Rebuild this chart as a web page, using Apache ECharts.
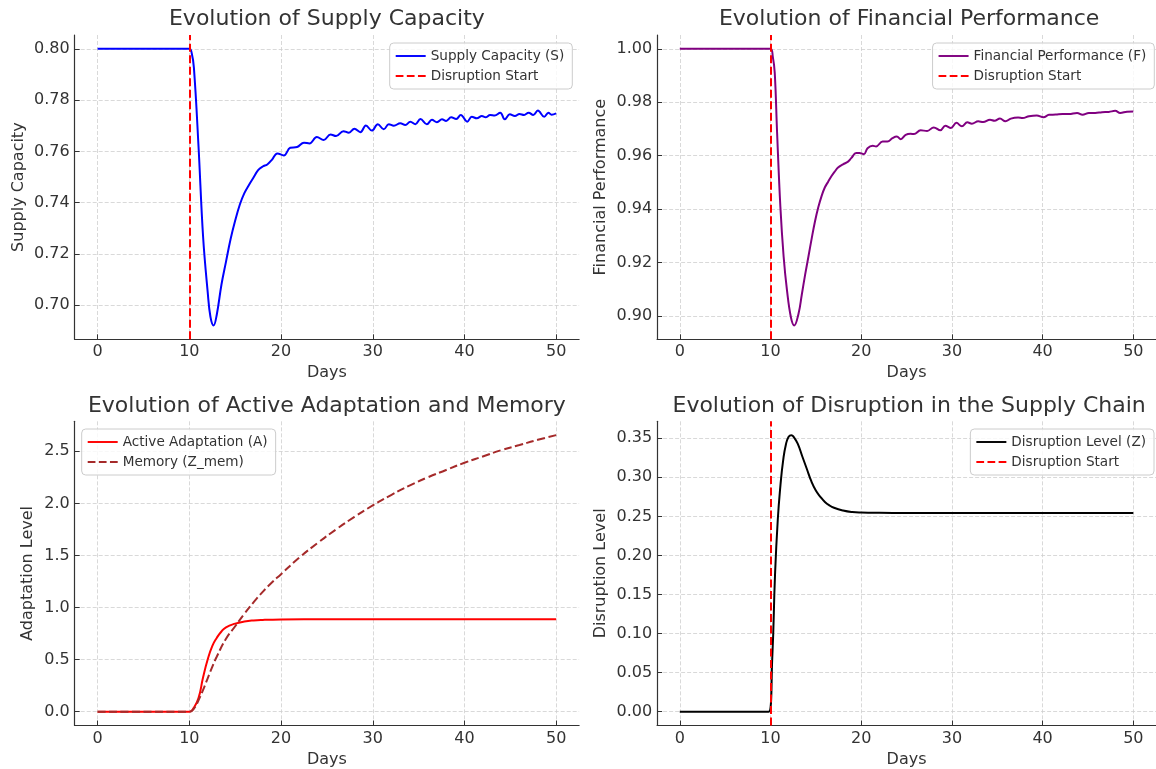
<!DOCTYPE html>
<html>
<head>
<meta charset="utf-8">
<script src="https://cdn.jsdelivr.net/npm/echarts@6/dist/echarts.min.js"></script>
<style>
  html, body { margin: 0; padding: 0; background: #fff; }
  #chart { width: 1156px; height: 769px; }
</style>
</head>
<body>
<div id="chart"></div>
<script>
// Supply capacity S over time (days)
const sDays = [0, 10, 10.25, 10.5, 11, 11.5, 12, 12.3, 12.65, 13, 13.5, 14, 14.5, 15, 15.5, 16, 16.5, 17, 17.5, 18,
  18.5, 19, 19.6, 20.3, 21.0, 21.75, 22.5, 23.1, 23.9, 24.65, 25.4, 26.0, 26.8, 27.4, 28.0, 28.65, 29.25, 29.9, 30.55, 31.2,
  31.75, 32.3, 33.0, 33.55, 34.1, 34.65, 35.2, 35.9, 36.45, 37.0, 37.55, 38.0, 38.55, 39.1, 39.6, 40.3, 40.8, 41.35, 41.9, 42.3,
  42.8, 43.3, 43.9, 44.4, 44.95, 45.5, 46.0, 46.5, 47.0, 47.5, 48.0, 48.7, 49.15, 49.5, 50];
const sValues = [0.80, 0.80, 0.7985, 0.7926, 0.762, 0.7267, 0.7052, 0.6955, 0.6921, 0.6965, 0.7080, 0.7170, 0.7258, 0.7330, 0.7392, 0.7437, 0.7469, 0.7498, 0.7527, 0.7541,
  0.7549, 0.7567, 0.7592, 0.7584, 0.7614, 0.7617, 0.7634, 0.7631, 0.7656, 0.7644, 0.7666, 0.7660, 0.7679, 0.7673, 0.7688, 0.7675, 0.7701, 0.7681, 0.7706, 0.7686,
  0.7706, 0.7700, 0.7710, 0.7703, 0.7716, 0.7706, 0.7726, 0.7706, 0.7723, 0.7714, 0.7725, 0.7719, 0.7733, 0.7726, 0.7742, 0.7716, 0.7735, 0.7729, 0.7738, 0.7733,
  0.7742, 0.7740, 0.7751, 0.7725, 0.7745, 0.7738, 0.7746, 0.7742, 0.7751, 0.7742, 0.7759, 0.7735, 0.7751, 0.7743, 0.7748];

// Financial performance F
const fDays = [0, 10, 10.25, 10.47, 10.73, 11.09, 11.45, 11.82, 12.25, 12.62, 13.09, 13.45, 13.82, 14.18, 14.55, 14.91, 15.27, 15.64, 16.0, 16.36,
  16.73, 17.09, 17.45, 18.0, 18.55, 18.9, 19.45, 19.8, 20.3, 20.7, 21.27, 21.64, 22.36, 22.9, 23.45, 23.93, 24.36, 24.9, 25.45, 25.82,
  26.55, 27.27, 28.0, 28.73, 29.27, 29.9, 30.5, 31.1, 31.7, 32.2, 32.9, 33.45, 34.2, 34.7, 35.3, 35.9, 36.5, 37.3, 37.8, 38.5,
  39.35, 40.1, 40.7, 41.45, 42.2, 42.9, 43.8, 44.4, 45.1, 45.8, 46.55, 47.3, 48.0, 48.55, 49.3, 50];
const fValues = [1.0, 1.0, 0.9972, 0.991, 0.9685, 0.9409, 0.9222, 0.9096, 0.8996, 0.8965, 0.9009, 0.9080, 0.9155, 0.9222, 0.9292, 0.9355, 0.9407, 0.9450, 0.9482, 0.9503,
  0.9524, 0.9541, 0.9556, 0.9568, 0.9578, 0.9591, 0.9610, 0.9610, 0.9606, 0.9628, 0.9637, 0.9635, 0.9653, 0.9653, 0.9666, 0.9672, 0.9662, 0.9678, 0.9682, 0.9681,
  0.9695, 0.9693, 0.9706, 0.9695, 0.9712, 0.9704, 0.9723, 0.9710, 0.9725, 0.9720, 0.9729, 0.9726, 0.9735, 0.9731, 0.9739, 0.9729, 0.9739, 0.9743, 0.9741, 0.9748,
  0.9751, 0.9744, 0.9753, 0.9754, 0.9756, 0.9756, 0.9760, 0.9753, 0.9760, 0.9760, 0.9763, 0.9764, 0.9768, 0.9760, 0.9765, 0.9766];

// Active adaptation A
const aDays = [0, 10, 10.5, 11, 11.5, 12, 12.5, 13, 13.5, 14, 15, 16, 17, 18, 20, 25, 50];
const aValues = [0, 0, 0.04, 0.13, 0.33, 0.50, 0.63, 0.71, 0.77, 0.81, 0.845, 0.865, 0.876, 0.881, 0.885, 0.887, 0.887];

// Memory Z_mem
const mDays = [0, 10, 10.5, 11, 11.5, 12, 12.5, 13, 14, 15, 16, 17, 18, 19, 20, 22, 24, 26, 28, 30, 32, 34, 36, 38, 40, 42, 44, 46, 48, 50];
const mValues = [0, 0, 0.03, 0.11, 0.21, 0.32, 0.43, 0.53, 0.70, 0.82, 0.94, 1.05, 1.15, 1.24, 1.32, 1.48, 1.62, 1.75, 1.87, 1.98, 2.08, 2.17, 2.25, 2.32, 2.39, 2.45, 2.51, 2.56, 2.61, 2.655];

// Disruption level Z
const zDays = [0, 9.8, 10.2, 10.5, 10.8, 11.1, 11.4, 11.7, 12, 12.3, 12.6, 13, 13.5, 14, 14.5, 15, 15.5, 16, 16.5, 17, 18, 19, 20, 22, 25, 50];
const zValues = [0, 0, 0.07, 0.175, 0.245, 0.29, 0.322, 0.342, 0.352, 0.354, 0.351, 0.343, 0.327, 0.311, 0.295, 0.283, 0.275, 0.2685, 0.264, 0.261, 0.2575, 0.2555, 0.2548, 0.2545, 0.2544, 0.2544];

// Day on which the disruption begins
const disruptionDay = 10;

const panelTitles = [
  'Evolution of Supply Capacity',
  'Evolution of Financial Performance',
  'Evolution of Active Adaptation and Memory',
  'Evolution of Disruption in the Supply Chain'
];
const yNames = ['Supply Capacity', 'Financial Performance', 'Adaptation Level', 'Disruption Level'];
const yDecimals = [2, 2, 1, 2];
const ySplits = [6, 6, 6, 8];

const FONT = 'DejaVu Sans';
const TEXT = '#333333';

const grids = [
  { left: 74.7, top: 35, width: 504.4, height: 304.3 },
  { left: 657.1, top: 35, width: 504.1, height: 304.3 },
  { left: 74.7, top: 421.3, width: 504.4, height: 304.2 },
  { left: 657.1, top: 421.3, width: 504.1, height: 304.2 }
];
const yNameGaps = [48, 48, 39, 48];

// 5% breathing room around the data on every axis
const pad5 = (e) => (e.max - e.min) * 0.05;

const gridLine = { show: true, showMinLine: false, showMaxLine: false,
  lineStyle: { color: '#cfcfcf', width: 0.8, type: [4, 2] } };

const xAxes = grids.map((g, i) => ({
  type: 'value', gridIndex: i,
  min: e => e.min - pad5(e), max: e => e.max + pad5(e),
  splitNumber: 5,
  name: 'Days', nameLocation: 'middle', nameGap: 26,
  nameTextStyle: { fontFamily: FONT, fontSize: 16, color: TEXT },
  axisLine: { show: true, onZero: false, lineStyle: { color: '#333', width: 1.2 } },
  axisTick: { show: true, inside: true, length: 5, lineStyle: { color: '#333', width: 1 } },
  axisLabel: { showMinLabel: false, showMaxLabel: false, margin: 5,
    fontFamily: FONT, fontSize: 16, color: TEXT, formatter: v => String(Math.round(v)) },
  splitLine: gridLine
}));

const yAxes = grids.map((g, i) => ({
  type: 'value', gridIndex: i,
  min: e => e.min - pad5(e), max: e => e.max + pad5(e),
  splitNumber: ySplits[i],
  name: yNames[i], nameLocation: 'middle', nameRotate: 90, nameGap: yNameGaps[i],
  nameTextStyle: { fontFamily: FONT, fontSize: 16, color: TEXT },
  axisLine: { show: true, onZero: false, lineStyle: { color: '#333', width: 1.2 } },
  axisTick: { show: true, inside: true, length: 5, lineStyle: { color: '#333', width: 1 } },
  axisLabel: { showMinLabel: false, showMaxLabel: false, margin: 5,
    fontFamily: FONT, fontSize: 16, color: TEXT, formatter: v => v.toFixed(yDecimals[i]) },
  splitLine: gridLine
}));

const pairs = (xs, ys) => xs.map((x, i) => [x, ys[i]]);

function curve(name, idx, xs, ys, color, dashed, smooth) {
  return {
    name, type: 'line', xAxisIndex: idx, yAxisIndex: idx,
    data: pairs(xs, ys), showSymbol: false, symbol: 'none', smooth: smooth,
    lineStyle: { color, width: 2, type: dashed ? [8, 3.5] : 'solid' },
    itemStyle: { color }, z: 3
  };
}

function disruptionLine(idx) {
  return {
    name: 'Disruption Start', type: 'line', xAxisIndex: idx, yAxisIndex: idx,
    data: [], symbol: 'none',
    lineStyle: { color: '#ff0000', width: 2, type: [8, 3.5] },
    itemStyle: { color: '#ff0000' },
    markLine: {
      silent: true, symbol: 'none', label: { show: false },
      lineStyle: { color: '#ff0000', width: 2, type: [8, 3.5] },
      data: [{ xAxis: disruptionDay }]
    },
    z: 4
  };
}

const series = [
  curve('Supply Capacity (S)', 0, sDays, sValues, '#0000ff', false, 0.4),
  disruptionLine(0),
  curve('Financial Performance (F)', 1, fDays, fValues, '#800080', false, 0.4),
  disruptionLine(1),
  curve('Active Adaptation (A)', 2, aDays, aValues, '#ff0000', false, 0.5),
  curve('Memory (Z_mem)', 2, mDays, mValues, '#a52a2a', true, 0.5),
  curve('Disruption Level (Z)', 3, zDays, zValues, '#000000', false, 0.5),
  disruptionLine(3)
];

// Legend keys: a plain stroke for solid lines, three dashes for dashed ones
const solidKey = 'path://M0,0h31v2h-31z';
const dashKey = 'path://M0,0h8v2h-8zM11.5,0h8v2h-8zM23,0h8v2h-8z';

const legendBase = {
  orient: 'vertical', align: 'left',
  backgroundColor: 'rgba(255,255,255,0.8)', borderColor: '#cccccc', borderWidth: 1, borderRadius: 4,
  padding: [6, 8, 6, 6], itemGap: 6, itemWidth: 30, itemHeight: 14, symbolKeepAspect: true,
  textStyle: { fontFamily: FONT, fontSize: 13.6, color: TEXT },
  selectedMode: false
};
const legends = [
  Object.assign({}, legendBase, { right: 583.7, top: 43,
    data: [{ name: 'Supply Capacity (S)', icon: solidKey }, { name: 'Disruption Start', icon: dashKey }] }),
  Object.assign({}, legendBase, { right: 1.7, top: 43,
    data: [{ name: 'Financial Performance (F)', icon: solidKey }, { name: 'Disruption Start', icon: dashKey }] }),
  Object.assign({}, legendBase, { left: 81.7, top: 429,
    data: [{ name: 'Active Adaptation (A)', icon: solidKey }, { name: 'Memory (Z_mem)', icon: dashKey }] }),
  Object.assign({}, legendBase, { right: 2, top: 429,
    data: [{ name: 'Disruption Level (Z)', icon: solidKey }, { name: 'Disruption Start', icon: dashKey }] })
];

const titleGraphics = grids.map((g, i) => ({
  type: 'text', x: g.left + g.width / 2, y: i < 2 ? 19.5 : 406,
  style: { text: panelTitles[i], fill: TEXT, font: '22px "DejaVu Sans"',
    textAlign: 'center', textVerticalAlign: 'middle' }
}));

const chart = echarts.init(document.getElementById('chart'), null, { renderer: 'canvas' });
chart.setOption({
  animation: false,
  backgroundColor: '#ffffff',
  textStyle: { fontFamily: FONT },
  grid: grids,
  xAxis: xAxes,
  yAxis: yAxes,
  legend: legends,
  series: series,
  graphic: titleGraphics
});
</script>
</body>
</html>
